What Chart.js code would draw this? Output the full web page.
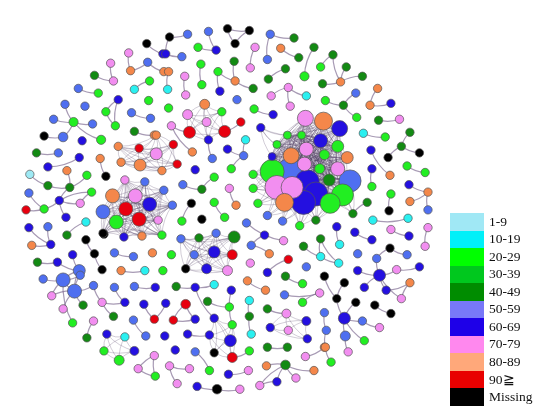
<!DOCTYPE html>
<html>
<head>
<meta charset="utf-8">
<script src="https://cdn.jsdelivr.net/npm/chart.js@4/dist/chart.umd.min.js"></script>
<style>
  body { margin: 0; background: #fff; }
  #wrap { position: relative; width: 550px; height: 416px; }
  #legend { position: absolute; left: 450px; top: 213px; font-family: 'Liberation Serif', serif; font-size: 13.5px; color: #111; }
  #legend .row { display: flex; align-items: center; height: 17.5px; }
  #legend .sw { width: 34px; height: 17.5px; margin-right: 5px; }
</style>
</head>
<body>
<div id="wrap">
  <canvas id="net" width="550" height="416"></canvas>
  <div id="legend"></div>
</div>
<script>
// ── Age groups ──
const legendLabels = ['1-9', '10-19', '20-29', '30-39', '40-49', '50-59', '60-69', '70-79', '80-89', '90≧', 'Missing'];
const legendColors = ['#a0e8f5', '#00f0f8', '#00ff00', '#00c81e', '#008c00', '#7878f8', '#1e00e8', '#ff88ee', '#ffa87a', '#e80000', '#000000'];
const nodeColors = { c1: '#9ee9f4', c: '#2af0f0', g: '#22ee22', g3: '#00cc22', d: '#138a13', b: '#4f6ff0', B: '#2410e0', p: '#f28ef0', o: '#f4874a', r: '#e8000f', k: '#000000' };

// ── Nodes: [x, y, group, radius] ──
const bigCluster = [
  [307,112,'p',8],[326,115,'o',9],[343,123,'B',8],[323,136,'B',7],[341,142,'g',6],[308,145,'p',7],
  [292,152,'o',8],[327,151,'g',5],[351,154,'o',6],[306,161,'p',7],[341,166,'p',7],[322,166,'g',5],
  [272,169,'g',12],[290,169,'b',13],[354,179,'b',11],[332,178,'d',6],[309,180,'B',12],[277,186,'p',12],
  [293,186,'p',11],[318,193,'B',12],[346,194,'g',11],[305,202,'B',12],[285,202,'o',9],[333,203,'g',10],
  [288,130,'g',4],[303,130,'g',4],[277,140,'g',4],[272,153,'B',4]
];
const fanNodes = [
  [252,172,'g'],[252,187,'g'],[257,203,'g'],[267,216,'b'],[283,222,'b'],[301,227,'g'],[318,221,'d'],[357,214,'d'],[260,122,'B']
];
const leftRedCluster = [
  [118,209,'r',7],[132,220,'r',7],[104,195,'o',7],[128,195,'p',7],[143,204,'B',7],[94,212,'b',7],[108,223,'g',7],
  [117,178,'p'],[138,180,'b'],[158,189,'b'],[167,205,'b'],[152,221,'p'],[156,237,'g'],[135,238,'o'],[116,239,'B'],[94,235,'k']
];
const orangeCluster = [
  [110,142,'o'],[132,144,'r'],[113,159,'o'],[133,162,'o',6],[150,150,'p',6],[156,168,'o'],[168,140,'r'],[172,161,'r'],[150,130,'o']
];
const redPairCluster = [
  [201,97,'o',5],[183,108,'p',5],[219,105,'g'],[203,116,'p',4.5],[185,127,'r',6],[222,126,'r',6],[205,135,'B']
];
const blueMidCluster = [
  [176,241,'b'],[195,240,'d'],[213,235,'b'],[232,239,'d',6],[190,258,'b'],[211,255,'B',6],[230,258,'r',5],[181,273,'k'],[203,273,'B',5],[225,275,'p',5]
];
const lowBlueCluster = [[206,344,'B'],[228,350,'B',6],[211,363,'k'],[230,368,'r',5],[211,326,'B'],[230,333,'g']];
const pinkCluster = [[287,321,'p',4.5],[308,329,'B',4.5],[270,336,'B'],[289,339,'p'],[309,348,'B']];
const greenCluster = [[98,343,'B'],[117,346,'c'],[95,361,'g'],[127,361,'B',4.5],[111,371,'g',5]];

const looseNodes = [
  // top-left
  [140,32,'k'],[121,42,'p'],[157,43,'B'],[102,53,'p'],[141,52,'b'],[123,61,'o'],[158,62,'o'],[85,66,'d'],[105,72,'p'],
  [143,72,'g'],[127,81,'c'],[68,80,'b'],[89,85,'g'],[110,92,'B'],[54,97,'b'],[75,99,'b'],[142,93,'g'],[97,105,'g'],
  [124,106,'b'],[144,112,'b'],[107,120,'g'],[42,113,'b'],[63,116,'g',4.6],[83,118,'b'],[127,126,'d'],[148,130,'o'],
  [32,131,'k'],[52,132,'b',4.8],[72,136,'B'],[92,135,'g',4.6],
  // top-middle
  [164,25,'k'],[183,22,'b'],[205,19,'b'],[225,16,'k'],[248,18,'k'],[233,32,'k'],[270,22,'b'],[295,26,'d'],[160,43,'B'],
  [177,46,'b'],[194,36,'g'],[213,39,'B'],[254,36,'p'],[281,37,'o'],[300,47,'d'],[316,36,'d'],[267,49,'b'],[163,62,'o'],
  [232,51,'d'],[249,58,'p'],[197,54,'g'],[180,67,'p'],[215,62,'g'],[286,59,'d'],[268,70,'d'],[306,67,'g',4.6],[233,72,'o'],
  [198,76,'g'],[252,80,'d'],[162,81,'c'],[181,87,'p'],[217,83,'B'],[289,79,'p'],[271,88,'p'],[308,88,'c'],
  [163,101,'g'],[166,120,'p'],[239,116,'r'],[188,148,'o'],[209,155,'b'],[244,135,'c'],[225,145,'B'],[242,152,'b'],
  [229,166,'g'],[191,167,'B'],[235,92,'b'],[253,102,'g'],[273,108,'B'],[291,99,'p'],
  // top-right
  [336,44,'d'],[323,57,'g'],[350,57,'d'],[367,67,'d'],[344,73,'o'],[325,75,'d'],[383,80,'o'],[360,85,'b'],[375,98,'o'],
  [397,96,'B'],[328,93,'g'],[347,98,'d'],[361,111,'g'],[384,114,'d'],[406,113,'p'],[368,128,'c'],[391,132,'g'],
  [417,127,'d'],[408,142,'d'],[376,146,'B'],[394,154,'k'],[427,149,'k'],[377,166,'B'],[396,173,'o'],[414,163,'g'],
  [433,170,'g'],[377,185,'g'],[416,183,'B'],[436,191,'o'],[417,201,'o'],[436,210,'b'],[397,193,'g'],[372,202,'d'],
  [395,211,'k'],[378,221,'c'],[415,219,'c'],
  // left
  [24,149,'d'],[47,149,'b'],[69,154,'B'],[91,155,'o'],[36,164,'B'],[56,168,'o'],[17,172,'c1'],[77,173,'g'],[97,174,'k'],
  [36,184,'d'],[59,186,'d'],[82,191,'g'],[16,192,'b'],[48,200,'B'],[70,203,'p'],[13,210,'r'],[32,209,'g'],[55,218,'B'],
  [76,223,'c'],[16,229,'B'],[36,228,'b'],[56,237,'d'],[95,236,'k'],[19,248,'o'],[39,247,'B'],[76,242,'k'],[62,258,'B'],
  [85,257,'k'],[25,266,'d'],[46,266,'B'],[69,275,'b',6],[93,274,'k'],[106,256,'b'],[126,260,'b'],[146,256,'o'],
  [113,275,'o'],[138,275,'c'],[157,275,'g'],
  // lower-left
  [31,284,'b'],[52,285,'b',7],[70,280,'b'],[64,297,'b',7],[84,291,'b'],[40,302,'p'],[52,316,'p'],[73,312,'d'],[93,309,'p'],
  [117,309,'B'],[62,331,'g'],[84,329,'p'],[105,324,'d'],[106,293,'b'],[127,292,'b'],[149,293,'B'],[137,311,'B'],
  [160,310,'B'],[148,327,'r'],[168,328,'r'],[126,328,'b'],[139,345,'b'],[159,345,'B'],[77,347,'d'],[148,366,'p'],
  [131,380,'p'],[149,388,'g'],[164,377,'p'],
  // middle and bottom
  [211,175,'g'],[178,183,'b'],[198,188,'d'],[227,187,'p'],[187,203,'k'],[211,202,'g'],[234,205,'o'],[177,222,'g'],
  [198,220,'k'],[222,218,'g'],[245,224,'b'],[166,258,'g'],[264,237,'B'],[284,243,'p'],[250,248,'b'],[269,257,'o'],
  [249,267,'p'],[289,263,'r'],[267,277,'B'],[305,249,'d'],[323,260,'c'],[308,271,'b'],[327,281,'k'],[286,281,'d'],
  [304,289,'g'],[171,292,'d'],[191,293,'B'],[211,290,'c'],[229,296,'B'],[246,286,'o'],[265,296,'o'],[285,301,'b'],
  [322,299,'p'],[304,309,'g'],[181,311,'r',4.8],[204,308,'d'],[227,314,'g'],[248,307,'c'],[267,316,'d'],[327,320,'b'],
  [191,327,'B'],[248,324,'d'],[250,343,'c'],[183,343,'B'],[170,360,'B'],[191,362,'b'],[248,361,'g'],[267,357,'d'],
  [288,357,'d'],[307,367,'p'],[327,357,'o'],[185,380,'p'],[206,382,'g'],[226,386,'B'],[247,382,'p'],[266,377,'o'],
  [286,376,'d',4.8],[316,382,'o'],[172,396,'p'],[193,399,'B'],[214,402,'k',4.8],[238,402,'p'],[259,398,'p'],
  [277,394,'B'],[297,390,'p'],
  // right
  [340,228,'B'],[323,241,'d'],[343,247,'c'],[342,267,'c'],[359,234,'B'],[377,242,'B'],[397,231,'p'],[416,238,'B'],
  [436,229,'p'],[433,249,'p'],[396,251,'k'],[362,257,'b'],[382,262,'b'],[414,258,'b'],[362,275,'B'],[385,280,'B',6],
  [403,274,'p'],[427,271,'B'],[348,288,'k'],[369,293,'B'],[392,296,'B'],[417,288,'o'],[408,305,'p'],[340,305,'k'],
  [360,309,'k'],[380,312,'k'],[397,321,'k'],[348,326,'B',6],[367,329,'b'],[385,336,'p'],[329,339,'b'],[349,345,'b',5],
  [369,350,'g'],[352,362,'p'],[328,357,'o'],[334,373,'g']
];

// ── Edges between loose nodes: [x1, y1, x2, y2] ──
const looseEdges = [
  [140,32,157,43],[121,42,123,61],[141,52,158,62],[123,61,141,52],[102,53,105,72],[85,66,105,72],[143,72,127,81],
  [68,80,89,85],[110,92,97,105],[110,92,107,120],[97,105,107,120],[124,106,144,112],[42,113,63,116],[54,97,63,116],
  [63,116,83,118],[63,116,92,135],[32,131,52,132],[52,132,63,116],[127,126,148,130],
  [164,25,183,22],[160,43,177,46],[164,25,160,43],[205,19,213,39],[194,36,213,39],[225,16,248,18],[225,16,233,32],
  [248,18,233,32],[270,22,295,26],[270,22,267,49],[254,36,249,58],[281,37,300,47],[316,36,306,67],[286,59,268,70],
  [197,54,198,76],[215,62,233,72],[215,62,217,83],[233,72,252,80],[232,51,233,72],[180,67,181,87],[289,79,271,88],
  [289,79,308,88],[163,62,162,81],[222,126,239,116],[166,120,185,127],[166,120,188,148],[205,135,209,155],
  [244,135,242,152],[225,145,242,152],[242,152,229,166],[253,102,273,108],[289,79,291,99],
  [336,44,323,57],[336,44,344,73],[350,57,344,73],[325,75,344,73],[367,67,344,73],[383,80,375,98],[375,98,397,96],
  [360,85,347,98],[328,93,347,98],[347,98,361,111],[384,114,406,113],[368,128,391,132],[417,127,408,142],
  [408,142,394,154],[408,142,427,149],[376,146,396,173],[414,163,433,170],[377,166,377,185],[416,183,436,191],
  [436,191,436,210],[417,201,436,191],[397,193,395,211],[372,202,357,214],[378,221,415,219],
  [24,149,47,149],[36,164,69,154],[91,155,97,174],[17,172,36,184],[36,184,59,186],[59,186,56,168],[59,186,77,173],
  [59,186,48,200],[82,191,48,200],[82,191,70,203],[16,192,32,209],[13,210,32,209],[32,209,48,200],[48,200,55,218],
  [48,200,70,203],[76,223,56,237],[16,229,39,247],[36,228,39,247],[19,248,39,247],[76,242,85,257],[85,257,93,274],
  [106,256,126,260],[46,266,69,275],[25,266,46,266],[62,258,69,275],[113,275,138,275],
  [31,284,52,285],[52,285,64,297],[52,285,40,302],[64,297,40,302],[64,297,52,316],[64,297,73,312],[64,297,84,291],
  [52,285,70,280],[70,280,64,297],[69,275,52,285],[69,275,64,297],[84,291,93,309],[93,309,117,309],[93,309,105,324],
  [84,329,77,347],[106,293,117,309],[127,292,149,293],[137,311,148,327],[148,327,160,310],[126,328,139,345],
  [148,366,131,380],[148,366,149,388],[131,380,149,388],[52,285,62,331],
  [178,183,198,188],[211,175,198,188],[227,187,234,205],[187,203,177,222],[211,202,222,218],[245,224,284,243],
  [264,237,250,248],[269,257,250,248],[289,263,267,277],[305,249,323,260],[286,281,304,289],[246,286,265,296],
  [285,301,322,299],[322,299,304,309],[171,292,191,293],[191,293,211,290],[191,293,211,326],[229,296,230,333],
  [204,308,227,314],[248,307,248,324],[248,324,250,343],[181,311,168,328],[181,311,191,327],[168,328,191,327],
  [230,368,248,361],[267,316,287,321],[267,357,288,357],[307,367,327,357],[164,377,185,380],[164,377,172,396],
  [193,399,214,402],[214,402,238,402],[226,386,247,382],[286,376,266,377],[286,376,297,390],[286,376,277,394],
  [286,376,259,398],[277,394,259,398],[206,382,191,362],[286,376,316,382],[183,343,206,344],
  [340,228,343,247],[323,241,342,267],[323,260,342,267],[323,241,323,260],[359,234,377,242],[397,231,416,238],
  [436,229,433,249],[396,251,382,262],[396,251,414,258],[382,262,385,280],[362,275,385,280],[385,280,369,293],
  [385,280,403,274],[403,274,427,271],[385,280,392,296],[392,296,417,288],[417,288,408,305],[385,280,408,305],
  [327,281,340,305],[348,288,340,305],[340,305,348,326],[360,309,348,326],[380,312,397,321],[348,326,367,329],
  [367,329,385,336],[348,326,349,345],[348,326,369,350],[349,345,352,362],[327,320,329,339],[329,339,328,357],
  [328,357,334,373]
];

const denseClusters = [bigCluster, leftRedCluster, orangeCluster, redPairCluster, blueMidCluster, lowBlueCluster, pinkCluster, greenCluster];

// ── Build edge list ──
function buildEdges() {
  const edges = looseEdges.map(e => ({ a: [e[0], e[1]], b: [e[2], e[3]], dense: false }));
  denseClusters.forEach(cl => {
    for (let i = 0; i < cl.length; i++) {
      for (let j = i + 1; j < cl.length; j++) {
        edges.push({ a: cl[i], b: cl[j], dense: true });
      }
    }
  });
  fanNodes.forEach(f => {
    bigCluster.forEach(n => {
      if (Math.hypot(f[0] - n[0], f[1] - n[1]) < 48) edges.push({ a: f, b: n, dense: true });
    });
  });
  return edges;
}

const edgePlugin = {
  id: 'edges',
  beforeDatasetsDraw(chart) {
    const { ctx, scales: { x, y } } = chart;
    ctx.save();
    buildEdges().forEach(e => {
      const x1 = x.getPixelForValue(e.a[0]), y1 = y.getPixelForValue(e.a[1]);
      const x2 = x.getPixelForValue(e.b[0]), y2 = y.getPixelForValue(e.b[1]);
      const mx = (x1 + x2) / 2, my = (y1 + y2) / 2;
      const cx = mx - (y2 - y1) * 0.15, cy = my + (x2 - x1) * 0.15;
      ctx.beginPath();
      ctx.moveTo(x1, y1);
      ctx.quadraticCurveTo(cx, cy, x2, y2);
      ctx.strokeStyle = e.dense ? 'rgba(70,50,90,0.35)' : 'rgba(120,100,140,0.65)';
      ctx.lineWidth = e.dense ? 0.7 : 1.2;
      ctx.stroke();
    });
    ctx.restore();
  }
};

const allNodes = [].concat(looseNodes, fanNodes, ...denseClusters)
  .map(n => ({ x: n[0], y: n[1], r: n[3] || 4.2, g: n[2] }))
  .sort((a, b) => b.r - a.r);

new Chart(document.getElementById('net'), {
  type: 'bubble',
  data: {
    datasets: [{
      data: allNodes,
      backgroundColor: allNodes.map(n => nodeColors[n.g]),
      borderColor: '#555',
      borderWidth: 0.7,
      hoverRadius: 0,
    }]
  },
  options: {
    responsive: false,
    animation: false,
    layout: { padding: 0 },
    plugins: { legend: { display: false }, tooltip: { enabled: false } },
    scales: {
      x: { display: false, min: 0, max: 550 },
      y: { display: false, min: 0, max: 416, reverse: true }
    }
  },
  plugins: [edgePlugin]
});

// ── Legend ──
const legendEl = document.getElementById('legend');
legendLabels.forEach((label, i) => {
  const row = document.createElement('div');
  row.className = 'row';
  row.innerHTML = `<div class="sw" style="background:${legendColors[i]}"></div><span>${label}</span>`;
  legendEl.appendChild(row);
});
</script>
</body>
</html>
